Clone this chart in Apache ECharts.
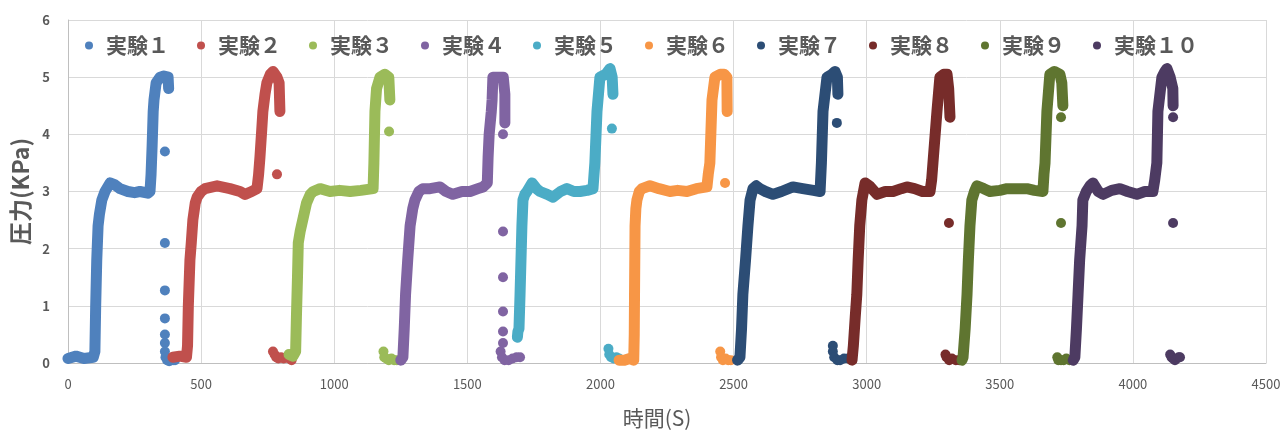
<!DOCTYPE html>
<html>
<head>
<meta charset="utf-8">
<script src="https://cdn.jsdelivr.net/npm/echarts@6/dist/echarts.min.js"></script>
<style>
html,body{margin:0;padding:0;background:#fff;}
#chart{width:1284px;height:434px;}
</style>
</head>
<body>
<div id="chart"></div>
<script>
// ---- data (time [s], pressure [KPa]) ----
const seriesNames = ['実験１','実験２','実験３','実験４','実験５','実験６','実験７','実験８','実験９','実験１０'];
const colors = ['#4F81BD','#C0504D','#9BBB59','#8064A2','#4BACC6','#F79646','#2C4D75','#772C2A','#5F7530','#4D3B62'];

const exp1 = [[0,0.08],[30,0.12],[60,0.08],[95,0.1],[101,0.2],[104,1.0],[108,1.8],[113,2.4],[118,2.6],[127,2.85],[139,3.0],[158,3.15],[175,3.12],[195,3.05],[225,3.0],[250,2.98],[270,3.0],[300,2.97],[308,3.0],[312,3.3],[316,3.8],[320,4.4],[323,4.6],[331,4.9],[346,5.0],[360,5.02],[376,5.0],[378,4.8]];
const exp1Dots = [[364,3.7],[364,2.1],[364,1.27],[364,0.78],[364,0.5],[364,0.35],[364,0.2],[366,0.1],[372,0.05],[380,0.03],[388,0.05],[395,0.05],[402,0.05]];

const exp2 = [[394,0.1],[420,0.12],[445,0.1],[449,0.3],[452,1.0],[458,1.8],[463,2.1],[469,2.5],[478,2.8],[485,2.9],[500,3.0],[515,3.05],[560,3.1],[608,3.05],[646,3.0],[665,2.95],[690,3.0],[710,3.05],[716,3.3],[721,3.6],[728,4.1],[732,4.4],[740,4.7],[747,4.9],[760,5.05],[770,5.1],[785,5.0],[793,4.9],[796,4.4]];
const exp2Dots = [[785,3.3],[770,0.2],[776,0.15],[782,0.1],[790,0.08],[800,0.1],[810,0.08],[820,0.1],[830,0.08],[840,0.05]];

const exp3 = [[830,0.15],[845,0.12],[855,0.2],[858,0.8],[862,1.5],[865,2.1],[872,2.3],[884,2.55],[896,2.8],[910,2.95],[921,3.0],[947,3.05],[984,3.0],[1020,3.02],[1060,3.0],[1100,3.02],[1146,3.05],[1149,3.5],[1153,4.4],[1159,4.8],[1172,5.0],[1190,5.05],[1205,5.0],[1209,4.6]];
const exp3Dots = [[1206,4.05],[1185,0.2],[1188,0.1],[1195,0.08],[1205,0.05],[1215,0.08],[1225,0.05],[1235,0.05]];

const exp4 = [[1250,0.05],[1258,0.1],[1263,0.6],[1268,1.2],[1276,1.8],[1285,2.4],[1295,2.7],[1303,2.85],[1318,3.0],[1333,3.05],[1360,3.05],[1397,3.08],[1420,3.0],[1446,2.95],[1480,3.0],[1510,3.0],[1540,3.05],[1559,3.08],[1575,3.15],[1578,3.6],[1582,4.0],[1590,4.4],[1593,4.6],[1596,5.0],[1615,5.0],[1635,5.0],[1641,4.7],[1641,4.2]];
const exp4Dots = [[1634,4.0],[1634,2.3],[1634,1.5],[1634,0.9],[1634,0.55],[1634,0.35],[1625,0.2],[1630,0.1],[1640,0.05],[1655,0.05],[1670,0.08],[1685,0.1],[1698,0.1]];

const exp5 = [[1688,0.45],[1690,0.55],[1694,0.6],[1698,1.2],[1705,2.4],[1709,2.85],[1716,2.95],[1724,3.0],[1743,3.15],[1760,3.05],[1773,3.0],[1800,2.95],[1822,2.9],[1850,3.0],[1874,3.05],[1900,3.0],[1923,3.0],[1950,3.02],[1972,3.05],[1979,3.5],[1987,4.4],[1998,5.0],[2020,5.05],[2036,5.15],[2044,5.0],[2047,4.7]];
const exp5Dots = [[2043,4.1],[2030,0.25],[2033,0.15],[2040,0.1],[2050,0.08],[2060,0.1],[2070,0.08]];

const exp6 = [[2070,0.05],[2090,0.05],[2110,0.08],[2125,0.05],[2127,0.5],[2128,1.2],[2130,2.4],[2133,2.7],[2137,2.85],[2146,3.0],[2156,3.05],[2186,3.1],[2220,3.05],[2261,3.0],[2290,3.02],[2325,3.0],[2360,3.05],[2400,3.08],[2405,3.3],[2411,3.5],[2419,4.6],[2430,5.0],[2450,5.05],[2465,5.05],[2475,5.0],[2476,4.4]];
const exp6Dots = [[2468,3.15],[2450,0.2],[2453,0.1],[2460,0.05],[2470,0.08],[2480,0.05],[2490,0.05]];

const exp7 = [[2515,0.05],[2524,0.1],[2530,0.6],[2535,1.2],[2545,1.8],[2554,2.4],[2562,2.85],[2573,3.05],[2585,3.1],[2599,3.05],[2620,3.0],[2648,2.95],[2680,3.0],[2723,3.08],[2760,3.05],[2800,3.02],[2825,3.0],[2830,3.5],[2836,4.4],[2851,5.0],[2870,5.05],[2881,5.1],[2890,5.0],[2892,4.7]];
const exp7Dots = [[2888,4.2],[2873,0.3],[2873,0.2],[2878,0.1],[2890,0.05],[2900,0.05],[2915,0.08],[2930,0.08],[2937,0.08]];

const exp8 = [[2945,0.05],[2950,0.3],[2957,0.8],[2963,1.2],[2968,1.8],[2974,2.4],[2982,2.85],[2994,3.15],[3010,3.1],[3039,2.95],[3070,3.0],[3099,3.0],[3130,3.05],[3151,3.08],[3180,3.05],[3210,3.0],[3238,3.0],[3244,3.2],[3249,3.5],[3264,4.4],[3275,5.0],[3290,5.05],[3302,5.05],[3308,4.8],[3313,4.3]];
const exp8Dots = [[3309,2.45],[3296,0.15],[3300,0.1],[3310,0.05],[3320,0.08],[3335,0.05],[3348,0.05]];

const exp9 = [[3358,0.05],[3362,0.1],[3370,0.6],[3377,1.2],[3382,1.8],[3388,2.4],[3395,2.85],[3405,3.0],[3414,3.1],[3440,3.05],[3463,3.0],[3500,3.02],[3527,3.05],[3560,3.05],[3602,3.05],[3630,3.02],[3662,3.0],[3666,3.3],[3670,3.5],[3677,4.4],[3688,5.05],[3705,5.1],[3726,5.05],[3733,4.9],[3737,4.5]];
const exp9Dots = [[3730,4.3],[3730,2.45],[3716,0.1],[3720,0.05],[3730,0.05],[3740,0.05],[3750,0.08],[3762,0.05]];

const exp10 = [[3776,0.05],[3782,0.1],[3788,0.6],[3794,1.2],[3800,1.8],[3809,2.4],[3812,2.85],[3825,3.0],[3839,3.1],[3850,3.15],[3870,3.0],[3888,2.95],[3920,3.02],[3951,3.05],[3980,3.0],[4015,2.95],[4045,3.0],[4075,3.0],[4082,3.2],[4090,3.5],[4094,4.4],[4109,5.0],[4120,5.1],[4128,5.15],[4140,5.0],[4150,4.8],[4151,4.5]];
const exp10Dots = [[4151,4.3],[4151,2.45],[4140,0.15],[4145,0.1],[4150,0.08],[4158,0.05],[4165,0.08],[4172,0.1],[4177,0.1]];

const xMin = 0, xMax = 4500, xStep = 500;
const yMin = 0, yMax = 6, yStep = 1;
const xTitle = '時間(S)';
const yTitle = '圧力(KPa)';
// ----------------------------------------

const mains = [exp1,exp2,exp3,exp4,exp5,exp6,exp7,exp8,exp9,exp10];
const dots = [exp1Dots,exp2Dots,exp3Dots,exp4Dots,exp5Dots,exp6Dots,exp7Dots,exp8Dots,exp9Dots,exp10Dots];

const series = [];
seriesNames.forEach((n, i) => {
  series.push({
    name: n, type: 'line', data: mains[i], showSymbol: false, symbol: 'circle',
    lineStyle: {width: 11, color: colors[i], cap: 'round', join: 'round'},
    itemStyle: {color: colors[i]}, z: 2 + i
  });
  series.push({
    name: n, type: 'scatter', data: dots[i], symbol: 'circle', symbolSize: 10,
    itemStyle: {color: colors[i], opacity: 1}, z: 2 + i
  });
});

const FONT = '"Noto Sans CJK JP", "Noto Sans", sans-serif';
const chart = echarts.init(document.getElementById('chart'), null, {renderer: 'canvas'});
chart.setOption({
  animation: false,
  color: colors,
  grid: {left: 68, right: 18, top: 20, bottom: 67},
  legend: {
    data: seriesNames.map(n => ({name: n, icon: 'circle'})),
    left: 80, top: 30, itemWidth: 24, itemHeight: 8, itemGap: 28,
    textStyle: {fontFamily: FONT, fontSize: 21, fontWeight: 'bold', color: '#595959'}
  },
  xAxis: {
    type: 'value', min: xMin, max: xMax, interval: xStep,
    name: xTitle, nameLocation: 'middle', nameGap: 45,
    nameTextStyle: {fontFamily: FONT, fontSize: 21, color: '#595959', padding: [0, 20, 0, 0]},
    axisLine: {show: true, lineStyle: {color: '#BFBFBF', width: 1}},
    axisTick: {show: false},
    axisLabel: {fontFamily: FONT, fontSize: 13, color: '#595959', margin: 15, formatter: v => String(v)},
    splitLine: {show: true, lineStyle: {color: '#D9D9D9', width: 1}}
  },
  yAxis: {
    type: 'value', min: yMin, max: yMax, interval: yStep,
    name: yTitle, nameLocation: 'middle', nameGap: 33, nameRotate: 90,
    nameTextStyle: {fontFamily: FONT, fontSize: 23, fontWeight: 'bold', color: '#595959'},
    axisLine: {show: true, lineStyle: {color: '#BFBFBF', width: 1}},
    axisTick: {show: false},
    axisLabel: {fontFamily: FONT, fontSize: 13, fontWeight: 'bold', color: '#595959', margin: 18},
    splitLine: {show: true, lineStyle: {color: '#D9D9D9', width: 1}}
  },
  series: series
});
</script>
</body>
</html>
